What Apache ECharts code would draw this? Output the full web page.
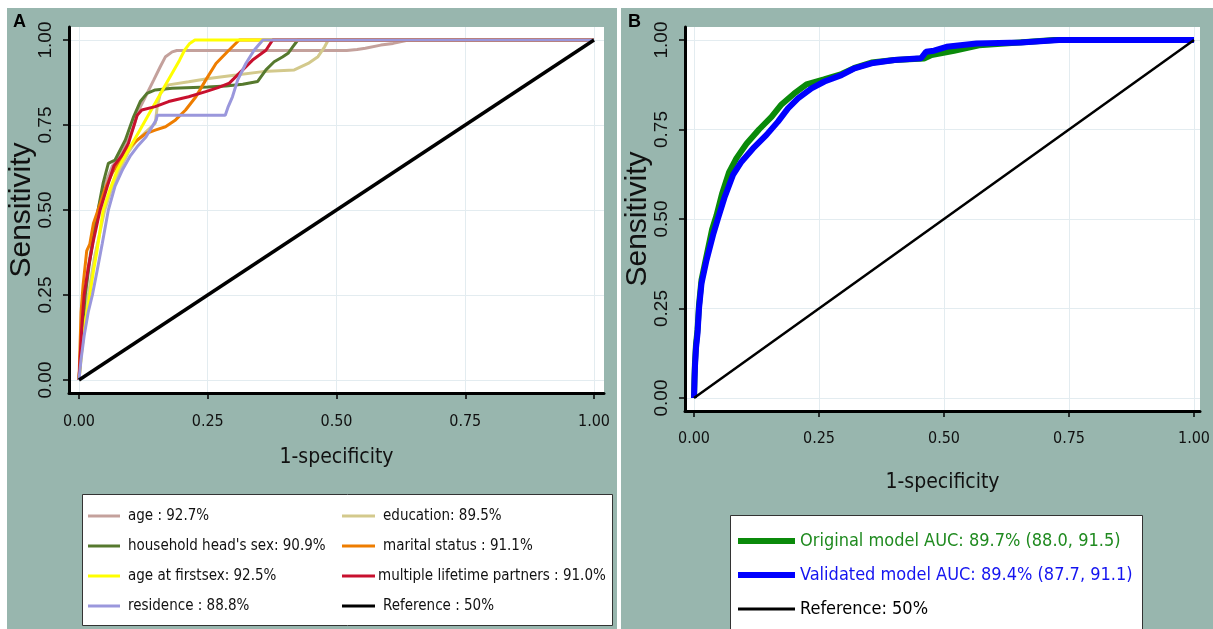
<!DOCTYPE html>
<html><head><meta charset="utf-8">
<script src="https://cdn.jsdelivr.net/npm/echarts@6/dist/echarts.min.js"></script>
<style>html,body{margin:0;padding:0;background:#fff}#c{width:1213px;height:629px}</style>
</head><body><div id="c"></div>
<script>
// ---- tick values / labels ----
const tickValues = [0, 0.25, 0.5, 0.75, 1];
const tickLabels = ['0.00', '0.25', '0.50', '0.75', '1.00'];

// ---- Panel A: series names ----
const namesA = ['age : 92.7%', 'education: 89.5%', "household head's sex: 90.9%", 'marital status : 91.1%',
  'age at firstsex: 92.5%', 'multiple lifetime partners : 91.0%', 'residence : 88.8%', 'Reference : 50%'];

// ---- Panel A: ROC points [1-specificity, sensitivity] ----
const ageROC = [[0,0],[0.004,0.1],[0.01,0.22],[0.018,0.33],[0.028,0.43],[0.04,0.52],[0.052,0.58],[0.065,0.63],[0.08,0.66],[0.093,0.696],[0.106,0.745],[0.116,0.794],[0.129,0.833],[0.145,0.882],[0.158,0.922],[0.168,0.951],[0.181,0.965],[0.19,0.969],[0.52,0.969],[0.54,0.972],[0.556,0.976],[0.586,0.985],[0.61,0.99],[0.64,1],[1,1]];
const educationROC = [[0,0],[0.004,0.07],[0.01,0.15],[0.018,0.25],[0.03,0.36],[0.05,0.5],[0.065,0.57],[0.08,0.62],[0.096,0.67],[0.11,0.7],[0.13,0.73],[0.148,0.755],[0.152,0.804],[0.158,0.843],[0.174,0.868],[0.213,0.877],[0.252,0.887],[0.305,0.897],[0.357,0.907],[0.418,0.912],[0.445,0.931],[0.464,0.951],[0.477,0.98],[0.484,1],[1,1]];
const householdROC = [[0,0],[0.003,0.08],[0.007,0.16],[0.012,0.25],[0.02,0.34],[0.028,0.42],[0.037,0.5],[0.047,0.58],[0.057,0.637],[0.07,0.647],[0.09,0.706],[0.106,0.774],[0.119,0.819],[0.132,0.843],[0.148,0.853],[0.181,0.858],[0.25,0.862],[0.285,0.865],[0.318,0.87],[0.347,0.878],[0.363,0.912],[0.379,0.936],[0.395,0.95],[0.406,0.961],[0.415,0.98],[0.425,1],[1,1]];
const maritalROC = [[0,0],[0.002,0.1],[0.004,0.2],[0.008,0.28],[0.015,0.38],[0.021,0.4],[0.028,0.46],[0.037,0.5],[0.05,0.56],[0.065,0.61],[0.08,0.645],[0.095,0.68],[0.113,0.706],[0.13,0.725],[0.148,0.735],[0.168,0.745],[0.1875,0.765],[0.207,0.794],[0.227,0.833],[0.246,0.882],[0.266,0.931],[0.291,0.97],[0.311,1],[1,1]];
const firstsexROC = [[0,0],[0.005,0.08],[0.012,0.17],[0.021,0.25],[0.028,0.32],[0.035,0.38],[0.047,0.5],[0.06,0.56],[0.075,0.62],[0.09,0.66],[0.105,0.7],[0.12,0.74],[0.135,0.78],[0.15,0.82],[0.165,0.86],[0.18,0.9],[0.195,0.94],[0.205,0.97],[0.215,0.99],[0.225,1],[1,1]];
const partnersROC = [[0,0],[0.003,0.09],[0.006,0.17],[0.01,0.25],[0.018,0.33],[0.028,0.41],[0.041,0.5],[0.055,0.57],[0.068,0.63],[0.083,0.66],[0.096,0.696],[0.106,0.745],[0.113,0.779],[0.122,0.794],[0.148,0.804],[0.174,0.819],[0.213,0.833],[0.246,0.848],[0.27,0.86],[0.292,0.873],[0.311,0.902],[0.337,0.941],[0.363,0.97],[0.376,1],[1,1]];
const residenceROC = [[0,0],[0.004,0.06],[0.01,0.13],[0.018,0.2],[0.026,0.25],[0.035,0.32],[0.045,0.4],[0.057,0.5],[0.07,0.57],[0.085,0.62],[0.1,0.66],[0.115,0.69],[0.13,0.715],[0.142,0.745],[0.15,0.765],[0.152,0.779],[0.284,0.779],[0.29,0.805],[0.298,0.833],[0.308,0.882],[0.324,0.931],[0.34,0.97],[0.357,1],[1,1]];
const referenceROC = [[0,0],[1,1]];

// ---- Panel B ----
const namesB = ['Original model AUC: 89.7% (88.0, 91.5)', 'Validated model AUC: 89.4% (87.7, 91.1)', 'Reference: 50%'];
const originalROC = [[0,0],[0.001,0.06],[0.002,0.1],[0.004,0.15],[0.007,0.19],[0.01,0.26],[0.015,0.33],[0.024,0.39],[0.036,0.47],[0.045,0.51],[0.056,0.57],[0.07,0.63],[0.085,0.67],[0.105,0.71],[0.13,0.75],[0.155,0.785],[0.175,0.82],[0.2,0.85],[0.225,0.876],[0.26,0.89],[0.295,0.905],[0.321,0.922],[0.355,0.937],[0.401,0.944],[0.46,0.948],[0.475,0.958],[0.52,0.97],[0.57,0.985],[0.65,0.993],[0.72,1],[1,1]];
const validatedROC = [[0,0],[0.001,0.05],[0.002,0.09],[0.004,0.14],[0.007,0.18],[0.01,0.25],[0.015,0.32],[0.025,0.385],[0.039,0.46],[0.048,0.502],[0.061,0.56],[0.078,0.623],[0.095,0.66],[0.118,0.697],[0.145,0.735],[0.168,0.772],[0.188,0.809],[0.208,0.837],[0.235,0.865],[0.261,0.884],[0.295,0.902],[0.321,0.921],[0.355,0.935],[0.401,0.944],[0.454,0.949],[0.464,0.967],[0.48,0.97],[0.505,0.981],[0.565,0.99],[0.654,0.993],[0.73,1],[1,1]];
const referenceB = [[0,0],[1,1]];

const colorsA = ['#c4a19c', '#d3c98c', '#56792e', '#ee7d00', '#ffff00', '#c8102e', '#9a97dc', '#000000'];
const seriesDataA = [ageROC, educationROC, householdROC, maritalROC, firstsexROC, partnersROC, residenceROC, referenceROC];
const colorsB = ['#0a8a0a', '#0000ff', '#000000'];
const textColorsB = ['#1f8a1f', '#1414f0', '#000000'];
const seriesDataB = [originalROC, validatedROC, referenceB];

const NARROW = '"DejaVu Sans Condensed","Liberation Sans Narrow",sans-serif';
const REG = '"Liberation Sans",Arial,sans-serif';
const GRID_LINE = '#e3ecf0';

function fmt(v) { const i = tickValues.indexOf(+v); return i >= 0 ? tickLabels[i] : ''; }

function xAxisOpt(idx, min, max, labelMargin, nameGap) {
  return {
    type: 'value', gridIndex: idx, min: min, max: max,
    name: '1-specificity', nameLocation: 'middle', nameGap: nameGap,
    nameTextStyle: { fontFamily: NARROW, fontSize: 21, color: '#111' },
    axisLine: { show: true, onZero: false, lineStyle: { color: '#000', width: 3 } },
    axisTick: { show: true, length: 6, customValues: tickValues, lineStyle: { color: '#000', width: 1.5 } },
    axisLabel: { show: true, customValues: tickValues, formatter: fmt, margin: labelMargin,
      fontFamily: NARROW, fontSize: 16, color: '#111' },
    splitLine: { show: true, lineStyle: { color: GRID_LINE, width: 1 } }
  };
}
function yAxisOpt(idx, min, max) {
  return {
    type: 'value', gridIndex: idx, min: min, max: max,
    name: 'Sensitivity', nameLocation: 'middle', nameGap: 32, nameRotate: 90, nameMoveOverlap: false,
    nameTextStyle: { fontFamily: REG, fontSize: 30, color: '#111' },
    axisLine: { show: true, onZero: false, lineStyle: { color: '#000', width: 3 } },
    axisTick: { show: true, length: 6, customValues: tickValues, lineStyle: { color: '#000', width: 1.5 } },
    axisLabel: { show: true, customValues: tickValues, formatter: fmt, rotate: 90, margin: 14,
      fontFamily: REG, fontSize: 19, color: '#111' },
    splitLine: { show: true, lineStyle: { color: GRID_LINE, width: 1 } }
  };
}

const series = [];
seriesDataA.forEach(function (d, i) {
  series.push({ type: 'line', name: namesA[i], xAxisIndex: 0, yAxisIndex: 0, data: d,
    color: colorsA[i], showSymbol: false, symbol: 'none', animation: false, z: 2 + i,
    lineStyle: { color: colorsA[i], width: i === 7 ? 3.5 : 3 } });
});
seriesDataB.forEach(function (d, i) {
  series.push({ type: 'line', name: namesB[i], xAxisIndex: 1, yAxisIndex: 1, data: d,
    color: colorsB[i], showSymbol: false, symbol: 'none', animation: false, z: 2 + i,
    lineStyle: { color: colorsB[i], width: i === 2 ? 2.5 : 6 } });
});

const legTextA = { fontFamily: NARROW, fontSize: 15, lineHeight: 20, color: '#111', padding: [0, 0, 0, 3] };
const legTextB = { fontFamily: NARROW, fontSize: 18, lineHeight: 22 };
const option = {
  backgroundColor: '#ffffff',
  animation: false,
  graphic: [
    { type: 'rect', z: -10, silent: true, shape: { x: 7, y: 8, width: 610, height: 621 }, style: { fill: '#98b6ae' } },
    { type: 'rect', z: -10, silent: true, shape: { x: 621, y: 8, width: 592, height: 621 }, style: { fill: '#98b6ae' } },
    { type: 'rect', z: 1, silent: true, shape: { x: 82.5, y: 494.5, width: 530, height: 131 }, style: { fill: '#fff', stroke: '#333', lineWidth: 1 } },
    { type: 'rect', z: 1, silent: true, shape: { x: 730.5, y: 515.5, width: 412, height: 130 }, style: { fill: '#fff', stroke: '#333', lineWidth: 1 } }
  ],
  title: [
    { text: 'A', left: 13, top: 13, padding: 0, textStyle: { fontFamily: REG, fontSize: 18, fontWeight: 'bold', color: '#000' } },
    { text: 'B', left: 628, top: 13, padding: 0, textStyle: { fontFamily: REG, fontSize: 18, fontWeight: 'bold', color: '#000' } }
  ],
  grid: [
    { left: 69, top: 27, width: 535, height: 366, show: true, backgroundColor: '#fff', borderWidth: 0, containLabel: false, outerBoundsMode: 'none' },
    { left: 685, top: 27, width: 515, height: 384, show: true, backgroundColor: '#fff', borderWidth: 0, containLabel: false, outerBoundsMode: 'none' }
  ],
  xAxis: [ xAxisOpt(0, -0.0194, 1.0194, 21, 54), xAxisOpt(1, -0.018, 1.012, 20, 61) ],
  yAxis: [ yAxisOpt(0, -0.03824, 1.03824), yAxisOpt(1, -0.0363, 1.0363) ],
  legend: [
    { data: [namesA[0], namesA[2], namesA[4], namesA[6]], orient: 'vertical', left: 88, top: 506,
      itemWidth: 32, itemHeight: 3, itemGap: 10, icon: 'rect', selectedMode: false, textStyle: legTextA, padding: 0 },
    { data: [namesA[1], namesA[3], { name: namesA[5], textStyle: { padding: [0, 0, 0, -2] } }, namesA[7]], orient: 'vertical', left: 342, top: 506,
      itemWidth: 33, itemHeight: 3, itemGap: 10, icon: 'rect', selectedMode: false, textStyle: legTextA, padding: 0 },
    { data: [ { name: namesB[0], textStyle: { color: textColorsB[0] } }, { name: namesB[1], textStyle: { color: textColorsB[1] } } ],
      orient: 'vertical', left: 738, top: 530, itemWidth: 57, itemHeight: 6, itemGap: 12, icon: 'rect', selectedMode: false, padding: 0,
      textStyle: legTextB },
    { data: [ { name: namesB[2], textStyle: { color: textColorsB[2] } } ],
      orient: 'vertical', left: 738, top: 598, itemWidth: 57, itemHeight: 3, icon: 'rect', selectedMode: false, padding: 0,
      textStyle: legTextB }
  ],
  series: series
};
const chart = echarts.init(document.getElementById('c'), null, { renderer: 'canvas' });
chart.setOption(option);
</script></body></html>
